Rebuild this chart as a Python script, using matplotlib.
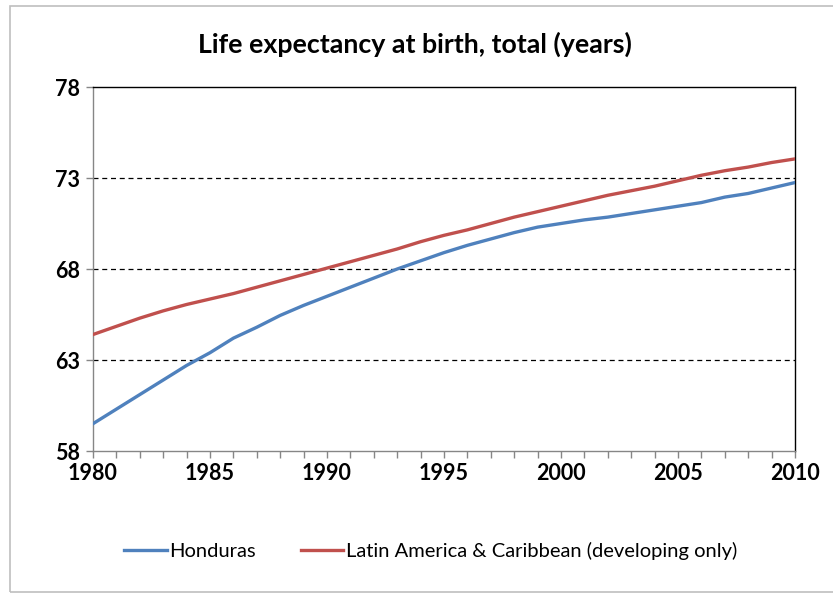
import numpy as np
import matplotlib.pyplot as plt
from matplotlib.patches import Rectangle

plt.rcParams['font.family'] = ['Lato', 'DejaVu Sans']

years = list(range(1980, 2011))
honduras = [59.5, 60.3, 61.1, 61.9, 62.7, 63.4, 64.2, 64.8, 65.45, 66.0,
            66.5, 67.0, 67.5, 68.0, 68.45, 68.9, 69.3, 69.65, 70.0, 70.3,
            70.5, 70.7, 70.85, 71.05, 71.25, 71.45, 71.65, 71.95, 72.15, 72.45,
            72.75]
latam = [64.4, 64.85, 65.3, 65.7, 66.05, 66.35, 66.65, 67.0, 67.35, 67.7,
         68.05, 68.4, 68.75, 69.1, 69.5, 69.85, 70.15, 70.5, 70.85, 71.15,
         71.45, 71.75, 72.05, 72.3, 72.55, 72.85, 73.15, 73.4, 73.6, 73.85,
         74.05]
y_ticks = [58, 63, 68, 73, 78]
x_ticks = [1980, 1985, 1990, 1995, 2000, 2005, 2010]

W, H = 833, 596
fig = plt.figure(figsize=(W / 100, H / 100), dpi=100)

# chart area border
fig.patches.append(Rectangle((10 / W, 1 - 592 / H), 840 / W, 586 / H,
                             transform=fig.transFigure, fill=False,
                             edgecolor='#BFBFBF', linewidth=1.2))

ax = fig.add_axes([93 / W, 1 - 451 / H, 702 / W, 364 / H])
ax.plot(years, honduras, color='#4F81BD', linewidth=2.4, label='Honduras', zorder=3)
ax.plot(years, latam, color='#C0504D', linewidth=2.4,
        label='Latin America & Caribbean (developing only)', zorder=3)

ax.set_xlim(1980, 2010)
ax.set_ylim(58, 78)
ax.set_yticks(y_ticks)
ax.set_xticks(x_ticks)
ax.set_xticks(years, minor=True)
for v in y_ticks[1:-1]:
    ax.axhline(v, color='black', linestyle=(0, (4, 3)), linewidth=0.9, zorder=1)

for s in ['top', 'right']:
    ax.spines[s].set_color('black')
    ax.spines[s].set_linewidth(1.0)
for s in ['left', 'bottom']:
    ax.spines[s].set_color('#868686')
    ax.spines[s].set_linewidth(1.0)

ax.tick_params(axis='both', which='both', direction='out', color='#868686',
               length=5, width=1)
ax.tick_params(axis='both', labelsize=15.5, pad=4)
for lab in ax.get_xticklabels() + ax.get_yticklabels():
    lab.set_fontweight('bold')

fig.text(415 / W, 1 - 44 / H, 'Life expectancy at birth, total (years)',
         ha='center', va='center', fontsize=19.3, fontweight='bold')

ax.legend(loc='center', bbox_to_anchor=(0.481, -0.275), ncol=2, frameon=False,
          fontsize=14.5, handlelength=2.1, handletextpad=0.15, columnspacing=2.2)

fig.savefig('out.png', dpi=100)
